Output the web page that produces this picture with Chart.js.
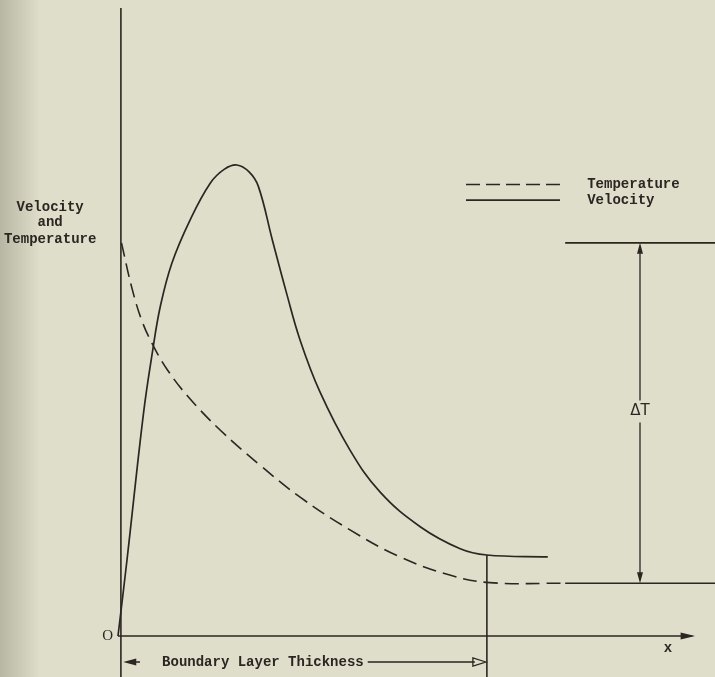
<!DOCTYPE html>
<html>
<head>
<meta charset="utf-8">
<script src="https://cdn.jsdelivr.net/npm/chart.js@4/dist/chart.umd.min.js"></script>
<style>
  html, body { margin: 0; padding: 0; background: #dfdecb; }
  #wrap { width: 715px; height: 677px; }
</style>
</head>
<body>
<div id="wrap"><canvas id="chart"></canvas></div>
<script>
'use strict';

// velocity profile (solid)
var velX = [0, 1.55, 4.4, 5.9, 7.3, 9.3, 12.4, 15.9, 18.3, 20.5, 22.6, 24.2, 26.6, 29.0, 31.4, 34.8, 40.0, 45.2, 52.1, 59.0, 63.6, 74.1];
var velY = [0, 12.1, 35.5, 45.0, 52.5, 59.4, 66.2, 72.1, 74.3, 75.0, 73.9, 71.6, 63.1, 54.8, 47.1, 38.9, 29.6, 22.9, 17.4, 13.9, 12.9, 12.6];

// temperature profile (dashed)
var tempX = [0.6, 2.4, 4.2, 6.1, 8.5, 12.1, 17.6, 24.5, 31.4, 40.0, 48.6, 57.2, 64.1, 77.1];
var tempY = [62.6, 55.4, 50.0, 46.2, 42.4, 38.1, 32.8, 27.2, 22.1, 16.9, 12.6, 9.7, 8.5, 8.4];

var seriesNames = ['Temperature', 'Velocity'];
var deltaLabel = '\u0394T';

var ink = '#2b2622';
var typeFont = 'bold 14px "Liberation Mono"';

function toPoints(xs, ys) {
  return xs.map(function(x, i) { return { x: x, y: ys[i] }; });
}

var paperPlugin = {
  id: 'paper',
  beforeDraw: function(chart) {
    var c = chart.ctx;
    c.save();
    c.fillStyle = '#dfdecb';
    c.fillRect(0, 0, chart.width, chart.height);
    var g = c.createLinearGradient(0, 0, 40, 0);
    g.addColorStop(0, 'rgba(150,150,130,0.55)');
    g.addColorStop(1, 'rgba(150,150,130,0)');
    c.fillStyle = g;
    c.fillRect(0, 0, 40, chart.height);
    c.restore();
  }
};

var sketchPlugin = {
  id: 'sketch',
  afterDatasetsDraw: function(chart) {
    var c = chart.ctx;
    var sx = chart.scales.x, sy = chart.scales.y;
    var X = function(v) { return sx.getPixelForValue(v); };
    var Y = function(v) { return sy.getPixelForValue(v); };
    var H = chart.height, W = chart.width;

    c.save();
    c.strokeStyle = ink;
    c.fillStyle = ink;
    c.lineWidth = 1.6;

    // y axis, running past the x axis to the bottom
    c.beginPath();
    c.moveTo(X(0.5), Y(100));
    c.lineTo(X(0.5), H);
    c.stroke();

    // x axis with arrow
    c.beginPath();
    c.moveTo(X(0), Y(0));
    c.lineTo(X(99), Y(0));
    c.stroke();
    c.beginPath();
    c.moveTo(X(99.5), Y(0));
    c.lineTo(X(97), Y(0) - 3.5);
    c.lineTo(X(97), Y(0) + 3.5);
    c.closePath();
    c.fill();

    // end of the boundary layer
    var edge = velX[velX.length - 2];
    c.beginPath();
    c.moveTo(X(edge), Y(velY[velY.length - 2]));
    c.lineTo(X(edge), H);
    c.stroke();

    // delta T reference lines
    var tTop = tempY[0], tBot = tempY[tempY.length - 1];
    var lx0 = X(tempX[tempX.length - 1]);
    c.beginPath();
    c.moveTo(lx0, Y(tTop)); c.lineTo(W, Y(tTop));
    c.moveTo(lx0, Y(tBot)); c.lineTo(W, Y(tBot));
    c.stroke();

    var ax = X(90);
    c.lineWidth = 1.3;
    c.beginPath();
    c.moveTo(ax, Y(tTop) + 8); c.lineTo(ax, Y(37.5));
    c.moveTo(ax, Y(34)); c.lineTo(ax, Y(tBot) - 8);
    c.stroke();
    c.beginPath();
    c.moveTo(ax, Y(tTop)); c.lineTo(ax - 3, Y(tTop) + 11); c.lineTo(ax + 3, Y(tTop) + 11); c.closePath();
    c.moveTo(ax, Y(tBot)); c.lineTo(ax - 3, Y(tBot) - 11); c.lineTo(ax + 3, Y(tBot) - 11); c.closePath();
    c.fill();

    c.font = '15px "DejaVu Sans"';
    c.textAlign = 'center';
    c.textBaseline = 'middle';
    c.fillText(deltaLabel, ax, Y(35.8));

    // boundary layer thickness arrow
    var by = Y(0) + 26;
    c.font = typeFont;
    c.textAlign = 'left';
    var txt = 'Boundary Layer Thickness';
    var tx = X(7.6);
    c.fillText(txt, tx, by);
    var tw = c.measureText(txt).width;
    c.lineWidth = 1.3;
    c.beginPath();
    c.moveTo(X(0.9) + 12, by); c.lineTo(X(3.8), by);
    c.moveTo(tx + tw + 4, by); c.lineTo(X(edge) - 12, by);
    c.stroke();
    c.beginPath();
    c.moveTo(X(0.9), by); c.lineTo(X(0.9) + 13, by - 3.5); c.lineTo(X(0.9) + 13, by + 3.5); c.closePath();
    c.fill();
    c.beginPath();
    c.moveTo(X(edge) - 1, by); c.lineTo(X(edge) - 14, by - 4); c.lineTo(X(edge) - 14, by + 4); c.closePath();
    c.stroke();

    // axis labels
    c.textAlign = 'center';
    c.fillText('Velocity', X(-11.7), Y(68.3));
    c.fillText('and', X(-11.7), Y(65.8));
    c.fillText('Temperature', X(-11.7), Y(63.2));
    c.fillText('x', X(94.8), Y(0) + 12);
    c.font = '15px "Liberation Serif"';
    c.fillText('O', X(-1.8), Y(0));

    // legend
    c.font = typeFont;
    var lgx0 = X(60.0), lgx1 = X(76.2), lgt = X(80.9);
    var ly = [Y(71.9), Y(69.4)];
    c.lineWidth = 1.6;
    c.setLineDash([14, 6]);
    c.beginPath(); c.moveTo(lgx0, ly[0]); c.lineTo(lgx1, ly[0]); c.stroke();
    c.setLineDash([]);
    c.beginPath(); c.moveTo(lgx0, ly[1]); c.lineTo(lgx1, ly[1]); c.stroke();
    c.textAlign = 'left';
    c.fillText(seriesNames[0], lgt, ly[0]);
    c.fillText(seriesNames[1], lgt, ly[1]);

    c.restore();
  }
};

new Chart(document.getElementById('chart'), {
  type: 'scatter',
  data: {
    datasets: [{
        label: seriesNames[0],
        data: toPoints(tempX, tempY),
        showLine: true,
        borderColor: ink,
        borderWidth: 1.6,
        borderDash: [14, 7],
        pointRadius: 0,
        tension: 0.4,
        clip: false
      },
      {
        label: seriesNames[1],
        data: toPoints(velX, velY),
        showLine: true,
        borderColor: ink,
        borderWidth: 1.7,
        pointRadius: 0,
        tension: 0.4,
        clip: false
      }
    ]
  },
  options: {
    responsive: true,
    maintainAspectRatio: false,
    animation: false,
    layout: { padding: { left: 118, right: 17, top: 8, bottom: 41 } },
    plugins: { legend: { display: false }, tooltip: { enabled: false } },
    scales: {
      x: { type: 'linear', min: 0, max: 100, display: false },
      y: { type: 'linear', min: 0, max: 100, display: false }
    }
  },
  plugins: [paperPlugin, sketchPlugin]
});
</script>
</body>
</html>
